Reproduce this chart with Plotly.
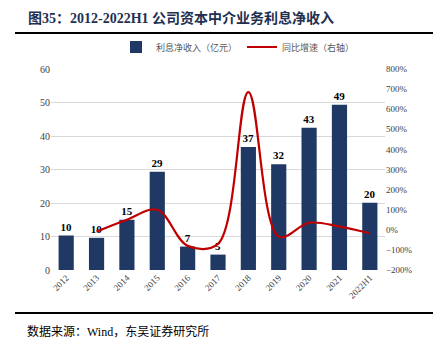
import plotly.graph_objects as go

categories = ["2012", "2013", "2014", "2015", "2016", "2017", "2018", "2019", "2020", "2021", "2022H1"]
net_interest = [10.3, 9.6, 15.0, 29.3, 7.0, 4.6, 36.7, 31.6, 42.5, 49.3, 20.1]
bar_labels = ["10", "10", "15", "29", "7", "5", "37", "32", "43", "49", "20"]
yoy_cats = ["2013", "2014", "2015", "2016", "2017", "2018", "2019", "2020", "2021", "2022H1"]
yoy_growth = [-9, 50, 100, -80, -70, 685, -34, 35, 16, -17]

W, H = 433, 358
L, R, T, B = 51, 385, 69, 270

def px(x):
    return (x - L) / (R - L)

def py(y):
    return (B - y) / (B - T)

serif = "Liberation Serif, Noto Sans CJK SC"
navy = "#203864"
red = "#c00000"

fig = go.Figure()
fig.add_trace(go.Bar(
    x=categories, y=net_interest, name="利息净收入（亿元）",
    marker=dict(color=navy, line=dict(width=0)), width=0.5,
    text=["<b>%s</b>" % t for t in bar_labels], textposition="outside", cliponaxis=False,
    textfont=dict(family=serif, size=11, color="#000000"),
    yaxis="y",
))
fig.add_trace(go.Scatter(
    x=yoy_cats, y=yoy_growth, name="同比增速（右轴）", mode="lines",
    line=dict(color=red, width=2.2, shape="spline", smoothing=1.0),
    yaxis="y2",
))

fig.update_layout(
    width=W, height=H,
    margin=dict(l=L, r=W - R, t=T, b=H - B, autoexpand=False),
    paper_bgcolor="white", plot_bgcolor="white",
    font=dict(family=serif, size=9, color="#595959"),
    bargap=0.5,
    showlegend=True,
    legend=dict(orientation="h", x=px(116), y=py(47), xanchor="left", yanchor="middle",
                font=dict(size=9, color="#595959", family="Noto Sans CJK SC"),
                tracegroupgap=0, bgcolor="rgba(0,0,0,0)"),
    xaxis=dict(type="category", tickangle=-45, showgrid=False, showline=False,
               ticks="", tickfont=dict(size=9, family=serif, color="#404040")),
    yaxis=dict(range=[0, 60], dtick=10, showgrid=True, gridcolor="#d9d9d9", gridwidth=1,
               zeroline=False, showline=False, ticks="",
               tickfont=dict(size=10, family=serif, color="#404040")),
    yaxis2=dict(range=[-200, 800], dtick=100, overlaying="y", side="right",
                showgrid=False, zeroline=False, showline=False, ticks="",
                ticksuffix="%", tickfont=dict(size=9, family=serif, color="#404040")),
)

fig.add_annotation(
    xref="paper", yref="paper", x=px(26), y=py(18), xanchor="left", yanchor="middle",
    text="<b>图35：2012-2022H1 公司资本中介业务利息净收入</b>", showarrow=False,
    font=dict(family=serif, size=14, color="#1f3050"),
)
fig.add_annotation(
    xref="paper", yref="paper", x=px(25), y=py(331), xanchor="left", yanchor="middle",
    text="数据来源：Wind，东吴证券研究所", showarrow=False,
    font=dict(family=serif, size=12, color="#000000"),
)
for yline in (33, 313):
    fig.add_annotation(
        xref="paper", yref="paper", x=px(15), y=py(yline), xanchor="left", yanchor="middle",
        text=" ", showarrow=False, width=418, height=2, bgcolor="#000000",
        borderpad=0, borderwidth=0, font=dict(size=1, color="#000000"),
    )

fig.write_html("out.html", config={"displayModeBar": False},
               post_script="document.body.style.margin='0';document.body.style.overflow='hidden';")
